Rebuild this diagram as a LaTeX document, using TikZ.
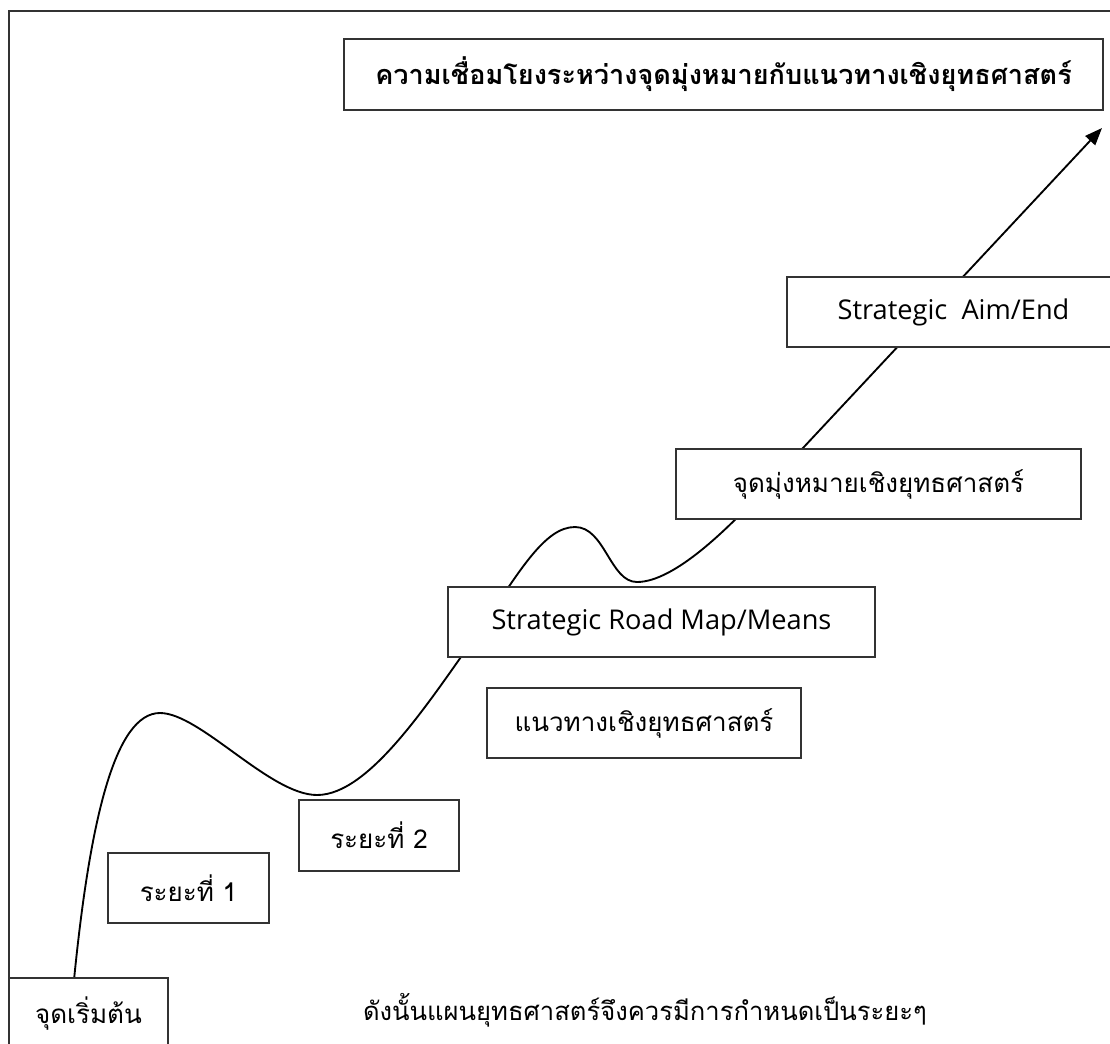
\documentclass[tikz,border=0pt]{standalone}
\usepackage{fontspec}
\setmainfont[Script=Thai]{Loma}
\newfontfamily\latinfont{Open Sans}
\usetikzlibrary{arrows.meta,calc,backgrounds}
\begin{document}
\begin{tikzpicture}[x=0.75pt,y=-0.75pt,
  box/.style={draw=black!80,line width=0.9pt,fill=white,inner sep=0pt,outer sep=0pt,
    minimum height=52.5pt,align=center,font=\fontsize{19.5}{22}\selectfont},
  engbox/.style={box,font=\latinfont\fontsize{20.4}{24}\selectfont},
  road/.style={line width=1.4pt,line join=round}]
\useasboundingbox (0,0) rectangle (1110,1043);
% open frame: top and left edges
\draw[line width=0.9pt,black!80] (1110,11) -- (9,11) -- (9,1043);

% headline
\node[box,minimum width=569.25pt,minimum height=53.25pt,font=\bfseries\fontsize{20.3}{24}\selectfont]
  (title) at (723.5,74.5) {ความเชื่อมโยงระหว่างจุดมุ่งหมายกับแนวทางเชิงยุทธศาสตร์};

% milestones along the path
\node[engbox,minimum width=249.75pt] (aim) at (953.5,312) {Strategic\ \ Aim/End};
\node[box,minimum width=303.75pt] (goal) at (878.5,484) {จุดมุ่งหมายเชิงยุทธศาสตร์};
\node[engbox,minimum width=320.25pt] (roadmap) at (661.5,622) {Strategic Road Map/Means};
\node[box,minimum width=235.5pt] (way) at (644,723) {แนวทางเชิงยุทธศาสตร์};
\node[box,minimum width=120pt,minimum height=53.25pt] (phase2) at (379,835.5) {ระยะที่ 2};
\node[box,minimum width=120.75pt] (phase1) at (188.5,888) {ระยะที่ 1};
\node[box,minimum width=119.25pt,minimum height=54pt] (start) at (88.5,1014) {จุดเริ่มต้น};

\node[font=\fontsize{19.2}{22}\selectfont,inner sep=0pt] (note) at (645,1010)
  {ดังนั้นแผนยุทธศาสตร์จึงควรมีการกำหนดเป็นระยะๆ};

\coordinate (tip) at (1102,128);

% the winding road from the start up to the aim, kept behind the boxes
\begin{pgfonlayer}{background}
\draw[road,-{Triangle[length=13pt,width=10pt]}]
  ($(start.north west)!0.41!(start.north east)$)
  .. controls (90,820) and (115,713) .. (160,713)
  .. controls (200,713) and (270,795) .. (317,795)
  .. controls (370,795) and (430,700) .. (480,630)
  .. controls (520,570) and (545,527) .. (575,527)
  .. controls (605,527) and (610,582) .. (637,582)
  .. controls (675,582) and (730,526) .. (760,494)
  -- (tip);
\end{pgfonlayer}
\end{tikzpicture}
\end{document}
